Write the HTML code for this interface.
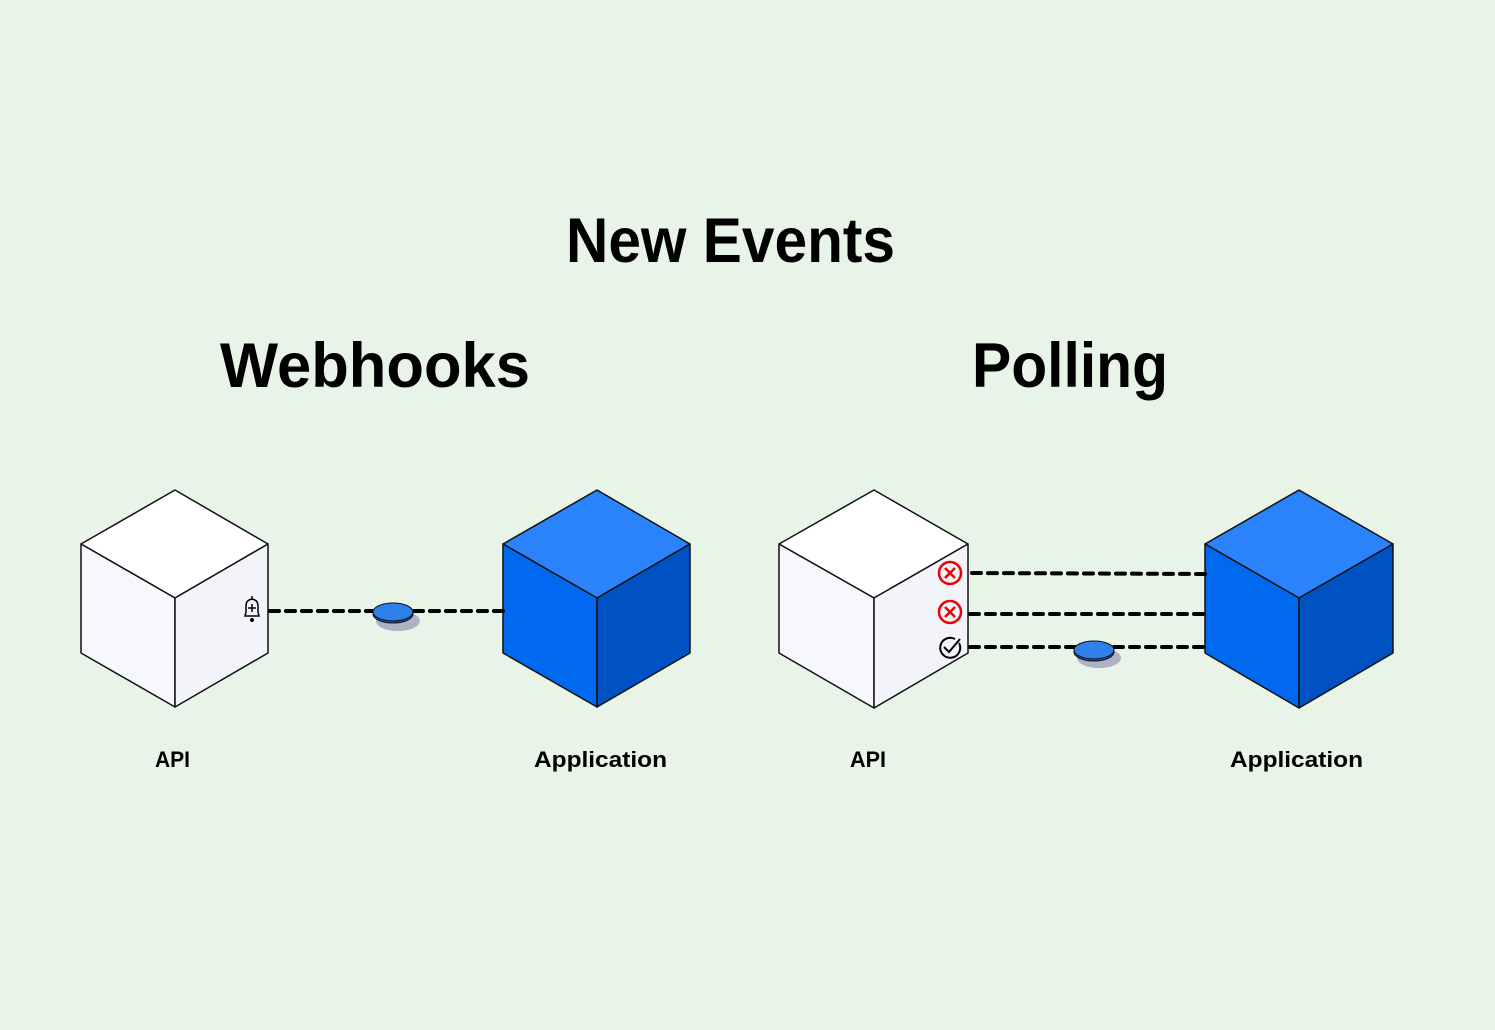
<!DOCTYPE html>
<html><head><meta charset="utf-8"><style>
html,body{margin:0;padding:0;background:#e9f4e8;}
svg{display:block}
text{font-family:"Liberation Sans",sans-serif;font-weight:bold;fill:#000}
</style></head><body>
<svg width="1495" height="1030" viewBox="0 0 1495 1030" xmlns="http://www.w3.org/2000/svg">
<rect width="1495" height="1030" fill="#e9f4e8"/>
<text x="566" y="262" font-size="63" textLength="329" lengthAdjust="spacingAndGlyphs">New Events</text>
<text x="220" y="387" font-size="63" textLength="310" lengthAdjust="spacingAndGlyphs">Webhooks</text>
<text x="972" y="387" font-size="63" textLength="196" lengthAdjust="spacingAndGlyphs">Polling</text>
<text x="155" y="767" font-size="22" textLength="35" lengthAdjust="spacingAndGlyphs">API</text>
<text x="534" y="767" font-size="22" textLength="133" lengthAdjust="spacingAndGlyphs">Application</text>
<text x="850" y="767" font-size="22" textLength="36" lengthAdjust="spacingAndGlyphs">API</text>
<text x="1230" y="767" font-size="22" textLength="133" lengthAdjust="spacingAndGlyphs">Application</text>

<g stroke="#111" stroke-width="1.5" stroke-linejoin="round">
<!-- white cube 1 -->
<polygon points="175,490 268,544 175,598 81,544" fill="#ffffff"/>
<polygon points="81,544 175,598 175,707 81,653" fill="#f7f8fd"/>
<polygon points="175,598 268,544 268,653 175,707" fill="#f2f4fa"/>
<!-- blue cube 1 -->
<polygon points="597,490 690,544 597,598 503,544" fill="#2a83fb"/>
<polygon points="503,544 597,598 597,707 503,653" fill="#0069f0"/>
<polygon points="597,598 690,544 690,653 597,707" fill="#0052c2"/>
<!-- white cube 2 -->
<polygon points="874,490 968,544 874,598 779,544" fill="#ffffff"/>
<polygon points="779,544 874,598 874,708 779,653" fill="#f7f8fd"/>
<polygon points="874,598 968,544 968,653 874,708" fill="#f2f4fa"/>
<!-- blue cube 2 -->
<polygon points="1299,490 1393,544 1299,598 1205,544" fill="#2a83fb"/>
<polygon points="1205,544 1299,598 1299,708 1205,653" fill="#0069f0"/>
<polygon points="1299,598 1393,544 1393,653 1299,708" fill="#0052c2"/>
</g>

<g stroke="#000" stroke-width="4" stroke-dasharray="9,7" stroke-linecap="round" fill="none">
<line x1="270" y1="611" x2="505" y2="611"/>
<line x1="972" y1="573" x2="1206" y2="574"/>
<line x1="970" y1="614" x2="1206" y2="614"/>
<line x1="970" y1="647" x2="1206" y2="647"/>
</g>

<!-- coins -->
<ellipse cx="398" cy="621" rx="22" ry="10" fill="#aeb2c2"/>
<ellipse cx="393" cy="614" rx="20" ry="9" fill="#1b5fc9" stroke="#111" stroke-width="1"/>
<ellipse cx="393" cy="612" rx="20" ry="9" fill="#2f80ea" stroke="#111" stroke-width="1"/>
<ellipse cx="1099" cy="658" rx="22" ry="10" fill="#aeb2c2"/>
<ellipse cx="1094" cy="652" rx="20" ry="9" fill="#1b5fc9" stroke="#111" stroke-width="1"/>
<ellipse cx="1094" cy="650" rx="20" ry="9" fill="#2f80ea" stroke="#111" stroke-width="1"/>

<!-- bell -->
<g stroke="#000" stroke-width="1.5" fill="none">
<path d="M245,616 L246,612 L246,606 Q246,600 252,599 Q258,600 258,606 L258,612 L259,616 Z"/>
<line x1="252" y1="596" x2="252" y2="599"/>
<line x1="252" y1="604" x2="252" y2="612"/>
<line x1="248" y1="608" x2="256" y2="608"/>
<circle cx="252" cy="620" r="1.2" fill="#000"/>
</g>

<!-- x icons -->
<g stroke="#e00" stroke-width="2.5" fill="none">
<circle cx="950" cy="573" r="11"/>
<path d="M945,568 L955,578 M955,568 L945,578"/>
<circle cx="950" cy="612" r="11"/>
<path d="M945,607 L955,617 M955,607 L945,617"/>
</g>
<g stroke="#000" stroke-width="2" fill="none">
<path d="M959,643 A10,10 0 1 1 955,639"/>
<path d="M944,647 L949,652 L960,639"/>
</g>
</svg>
</body></html>
